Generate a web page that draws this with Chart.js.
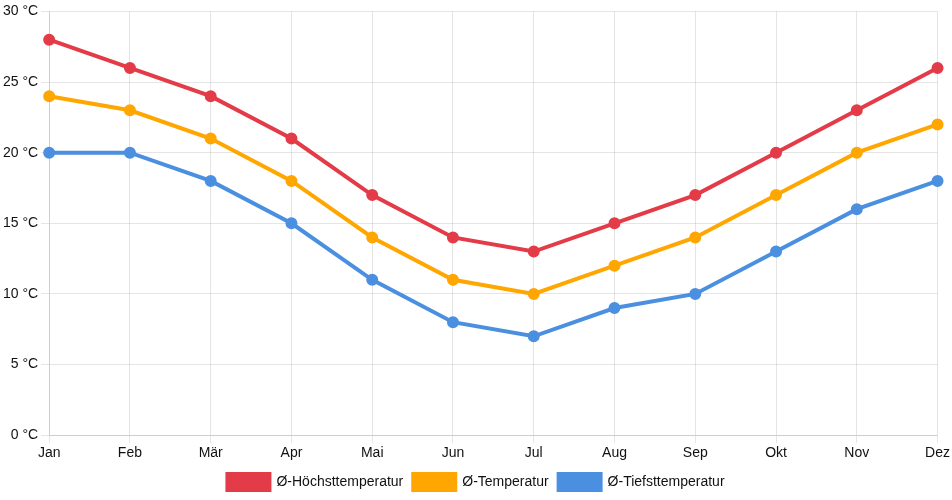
<!DOCTYPE html>
<html>
<head>
<meta charset="utf-8">
<script src="https://cdn.jsdelivr.net/npm/chart.js@4/dist/chart.umd.min.js"></script>
<style>
  html, body { margin: 0; padding: 0; background: #fff; }
  #wrap { width: 952px; height: 500px; }
</style>
</head>
<body>
<div id="wrap"><canvas id="c"></canvas></div>
<script>
const months = ["Jan", "Feb", "Mär", "Apr", "Mai", "Jun", "Jul", "Aug", "Sep", "Okt", "Nov", "Dez"];
const maxTemp = [28, 26, 24, 21, 17, 14, 13, 15, 17, 20, 23, 26];
const meanTemp = [24, 23, 21, 18, 14, 11, 10, 12, 14, 17, 20, 22];
const minTemp = [20, 20, 18, 15, 11, 8, 7, 9, 10, 13, 16, 18];

Chart.defaults.font.family = "'Liberation Sans', Arial, sans-serif";
Chart.defaults.font.size = 14;
Chart.defaults.color = "#111";

function series(label, data, color) {
  return {
    label,
    data,
    borderColor: color,
    backgroundColor: color,
    borderWidth: 4,
    pointRadius: 4,
    pointHoverRadius: 5,
    fill: false,
    tension: 0,
  };
}

new Chart(document.getElementById("c"), {
  type: "line",
  data: {
    labels: months,
    datasets: [
      series("Ø-Höchsttemperatur", maxTemp, "#e33b48"),
      series("Ø-Temperatur", meanTemp, "#ffa600"),
      series("Ø-Tiefsttemperatur", minTemp, "#4a8fe0"),
    ],
  },
  options: {
    responsive: true,
    maintainAspectRatio: false,
    animation: false,
    layout: { padding: { top: 4 } },
    plugins: {
      legend: {
        position: "bottom",
        labels: { boxWidth: 42, boxHeight: 16, padding: 10 },
      },
      tooltip: { enabled: false },
    },
    scales: {
      x: {
        grid: { color: "rgba(0,0,0,0.1)" },
        ticks: { padding: 2 },
      },
      y: {
        min: 0,
        max: 30,
        ticks: { stepSize: 5, callback: (v) => v + " °C" },
        grid: { color: "rgba(0,0,0,0.1)" },
      },
    },
  },
});
</script>
</body>
</html>
